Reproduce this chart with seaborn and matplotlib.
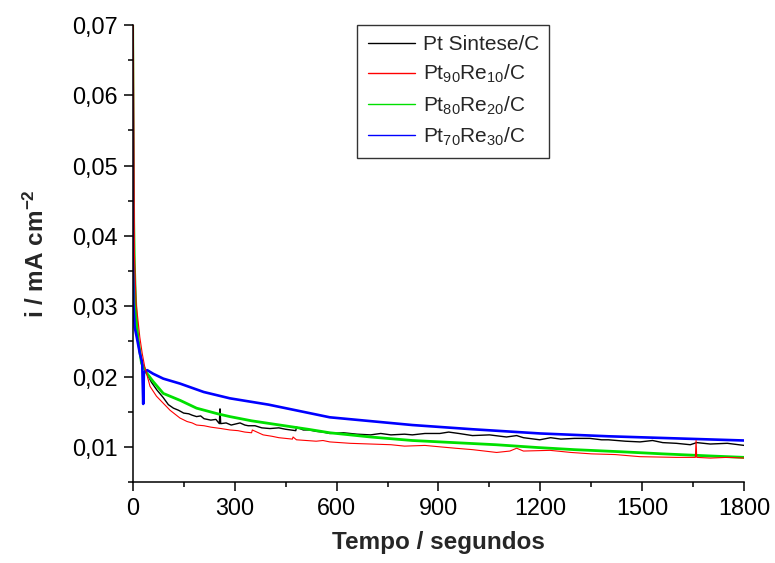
import matplotlib
matplotlib.use("Agg")
import matplotlib.pyplot as plt
import seaborn as sns
import pandas as pd
from matplotlib.ticker import MultipleLocator, FuncFormatter
from matplotlib.lines import Line2D

# ---------------- data ----------------
series_names = ["Pt Sintese/C", r"Pt$_{90}$Re$_{10}$/C", r"Pt$_{80}$Re$_{20}$/C", r"Pt$_{70}$Re$_{30}$/C"]
series_colors = ["#000000", "#ff0000", "#00e000", "#0000ff"]

t_black = [0, 2, 5, 10, 20, 30, 41, 55, 71, 90, 105, 120, 135, 150, 165, 175, 188, 200, 210, 230, 245, 255, 257, 259,
           275, 290, 316, 330, 340, 360, 380, 404, 430, 450, 480, 482, 502, 520, 540, 560, 580, 620, 660, 700, 730, 760,
           800, 823, 860, 904, 930, 960, 1000, 1050, 1100, 1130, 1150, 1198, 1230, 1260, 1300, 1346, 1380, 1400, 1450,
           1493, 1530, 1560, 1600, 1641, 1660, 1700, 1750, 1800]
i_black = [0.0700, 0.0450, 0.0330, 0.0280, 0.0235, 0.0215, 0.0205, 0.0192, 0.0181, 0.0170, 0.0160, 0.0155, 0.0152,
           0.0148, 0.0147, 0.0145, 0.0143, 0.0144, 0.0140, 0.0138, 0.0139, 0.0133, 0.0154, 0.0133, 0.0134, 0.0131,
           0.0134, 0.0131, 0.0130, 0.0130, 0.0127, 0.0126, 0.0127, 0.0125, 0.0123, 0.0128, 0.0124, 0.0124, 0.0122,
           0.0121, 0.0119, 0.0120, 0.0118, 0.0117, 0.0119, 0.0117, 0.0118, 0.0117, 0.0119, 0.0119, 0.0121, 0.0119,
           0.0116, 0.0117, 0.0114, 0.0116, 0.0113, 0.0110, 0.0113, 0.0111, 0.0112, 0.0112, 0.0110, 0.0110, 0.0108,
           0.0107, 0.0109, 0.0106, 0.0105, 0.0103, 0.0106, 0.0104, 0.0105, 0.0102]

t_red = [2, 3, 5, 10, 21, 28, 35, 51, 70, 90, 110, 139, 160, 175, 188, 210, 230, 260, 286, 310, 330, 350, 352,
         384, 410, 430, 470, 472, 482, 540, 560, 580, 640, 700, 760, 800, 860, 904, 950, 1000, 1071, 1110, 1130, 1150,
         1228, 1290, 1350, 1420, 1493, 1600, 1656, 1658, 1660, 1700, 1750, 1800]
i_red = [0.0700, 0.0600, 0.0376, 0.0305, 0.0256, 0.0233, 0.0215, 0.0186, 0.0172, 0.0162, 0.0152, 0.0141,
         0.0136, 0.0134, 0.0131, 0.0130, 0.0128, 0.0126, 0.0124, 0.0123, 0.0121, 0.0120, 0.0124, 0.0117, 0.0115,
         0.0113, 0.0111, 0.0114, 0.0110, 0.0108, 0.0109, 0.0107, 0.0105, 0.0104, 0.0103, 0.0101, 0.0102, 0.0100,
         0.0098, 0.0096, 0.0092, 0.0094, 0.0098, 0.0094, 0.0095, 0.0092, 0.0090, 0.0089, 0.0086, 0.0085, 0.0085,
         0.0109, 0.0085, 0.0084, 0.0085, 0.0084]

t_green = [0, 1, 3, 5, 7, 10, 15, 26, 41, 60, 90, 140, 188, 250, 286, 350, 433, 516, 580, 700, 823, 946, 1069,
           1192, 1300, 1437, 1560, 1700, 1800]
i_green = [0.0700, 0.0580, 0.0420, 0.0360, 0.0327, 0.0290, 0.0256, 0.0219, 0.0205, 0.0193, 0.0176, 0.0166, 0.0155,
           0.0147, 0.0143, 0.0137, 0.0131, 0.0125, 0.0120, 0.0114, 0.0109, 0.0106, 0.0103, 0.0099, 0.0096, 0.0093,
           0.0090, 0.0087, 0.0085]

t_blue = [0, 1, 2, 6, 12, 21, 28, 31, 33, 38, 43, 60, 90, 139, 209, 286, 400, 580, 823, 1000, 1200, 1400, 1600, 1800]
i_blue = [0.0617, 0.0450, 0.0305, 0.0270, 0.0256, 0.0233, 0.0220, 0.0161, 0.0205, 0.0208, 0.0209, 0.0204, 0.0197,
          0.0190, 0.0178, 0.0169, 0.0160, 0.0142, 0.0131, 0.0125, 0.0119, 0.0115, 0.0112, 0.0109]

x_ticks = [0, 300, 600, 900, 1200, 1500, 1800]
y_ticks = [0.01, 0.02, 0.03, 0.04, 0.05, 0.06, 0.07]

# ---------------- styling ----------------
sns.set_style("ticks")
plt.rcParams["font.family"] = ["Liberation Sans", "DejaVu Sans"]
plt.rcParams["mathtext.fontset"] = "custom"
plt.rcParams["mathtext.rm"] = "Liberation Sans"
plt.rcParams["mathtext.it"] = "Liberation Sans:italic"
plt.rcParams["mathtext.bf"] = "Liberation Sans:bold"

fig = plt.figure(figsize=(7.75, 5.63), dpi=100)
ax = fig.add_axes([0.1712, 0.1439, 0.7892, 0.8117])

all_t = [t_black, t_red, t_green, t_blue]
all_i = [i_black, i_red, i_green, i_blue]
widths = [1.0, 0.8, 2.0, 1.9]
draw_order = [0, 2, 3, 1]  # black, green, blue, red on top
for k in draw_order:
    df = pd.DataFrame({"t": all_t[k], "i": all_i[k]})
    sns.lineplot(data=df, x="t", y="i", color=series_colors[k], linewidth=widths[k], ax=ax,
                 sort=False, estimator=None, legend=False)

ax.set_xlim(0, 1800)
ax.set_ylim(0.005, 0.07)
ax.set_xticks(x_ticks)
ax.set_yticks(y_ticks)
ax.xaxis.set_minor_locator(MultipleLocator(150))
ax.yaxis.set_minor_locator(MultipleLocator(0.005))
ax.yaxis.set_major_formatter(FuncFormatter(lambda v, p: f"{v:.2f}".replace(".", ",")))
ax.tick_params(axis="both", which="major", direction="out", length=6.5, width=1.1,
               labelsize=16.8, pad=4, color="black", labelcolor="black")
ax.tick_params(axis="both", which="minor", direction="out", length=3.6, width=1.1, color="black")

sns.despine(ax=ax)
for s in ["left", "bottom"]:
    ax.spines[s].set_linewidth(1.1)
    ax.spines[s].set_color("black")

ax.set_xlabel("Tempo / segundos", fontsize=17.5, fontweight="bold", labelpad=8)
ax.set_ylabel(r"$\mathbf{i\ /\ mA\ cm^{-2}}$", fontsize=17.5, labelpad=17)

handles = [Line2D([0], [0], color=c, linewidth=1.0) for c in series_colors]
leg = ax.legend(handles, series_names, loc="upper left", bbox_to_anchor=(0.367, 1.0),
                borderaxespad=0, frameon=True, fancybox=False, fontsize=15,
                handlelength=2.3, handletextpad=0.35, labelspacing=0.42, borderpad=0.5)
leg.get_frame().set_edgecolor("black")
leg.get_frame().set_linewidth(1.0)

fig.savefig("out.png", dpi=100, facecolor="white")
